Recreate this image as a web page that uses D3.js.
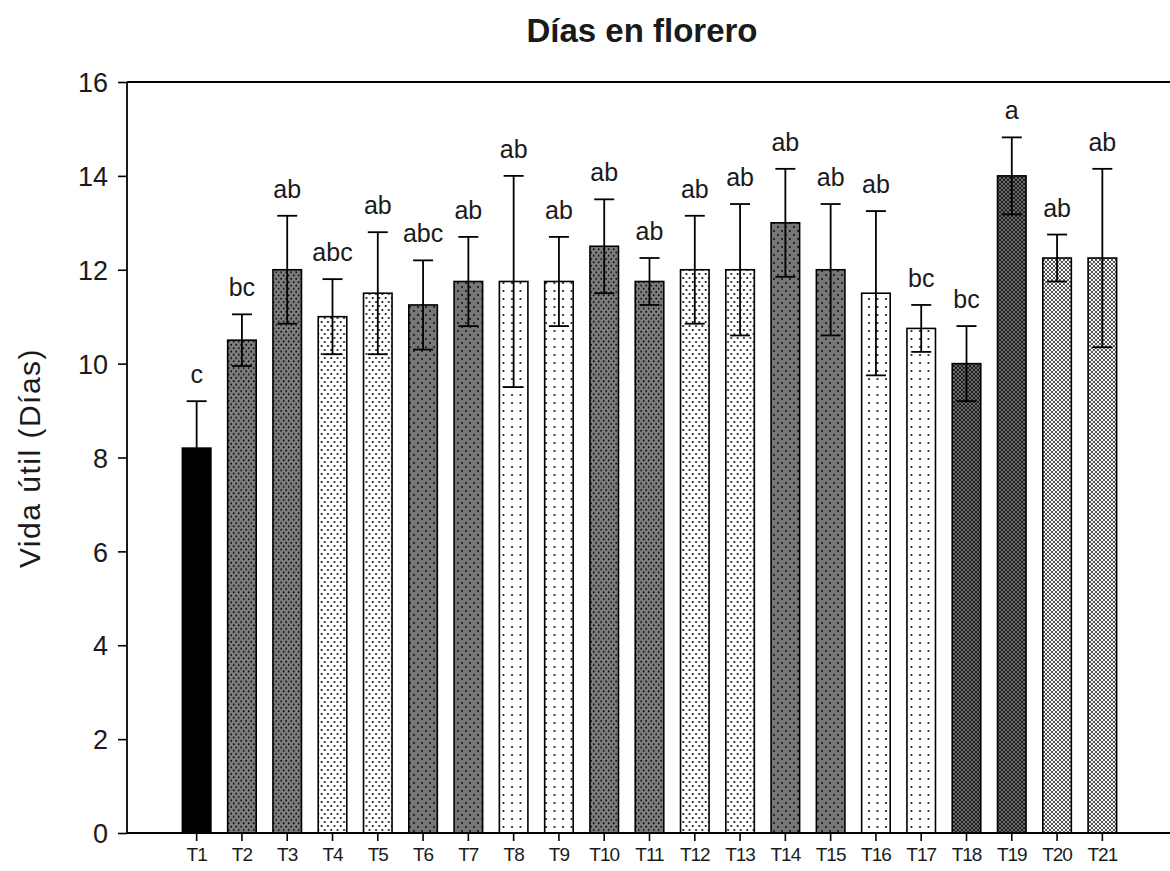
<!DOCTYPE html>
<html>
<head>
<meta charset="utf-8">
<script src="https://cdn.jsdelivr.net/npm/d3@7"></script>
<style>
  html, body { margin: 0; padding: 0; background: #fff; }
  svg { display: block; }
  text { font-family: "Liberation Sans", Arial, sans-serif; fill: #1a1a1a; }
</style>
</head>
<body>
<svg id="chart" width="1170" height="871"></svg>
<script>
// Treatments, mean vase life (days), standard error and significance letters
const treatments = ["T1","T2","T3","T4","T5","T6","T7","T8","T9","T10","T11",
                    "T12","T13","T14","T15","T16","T17","T18","T19","T20","T21"];
const meanDays   = [8.2, 10.5, 12.0, 11.0, 11.5, 11.25, 11.75, 11.75, 11.75, 12.5, 11.75,
                    12.0, 12.0, 13.0, 12.0, 11.5, 10.75, 10.0, 14.0, 12.25, 12.25];
const errDays    = [1.0, 0.55, 1.15, 0.8, 1.3, 0.95, 0.95, 2.25, 0.95, 1.0, 0.5,
                    1.15, 1.4, 1.15, 1.4, 1.75, 0.5, 0.8, 0.82, 0.5, 1.9];
const letters    = ["c","bc","ab","abc","ab","abc","ab","ab","ab","ab","ab",
                    "ab","ab","ab","ab","ab","bc","bc","a","ab","ab"];
const yTicks     = [0, 2, 4, 6, 8, 10, 12, 14, 16];

// Fill style for each treatment (pattern ids defined below)
const fillKinds  = ["solid","darkDense","darkDense","lightDense","lightDense","darkSparse","darkSparse",
                    "lightSparse","lightSparse","darkDense","darkDense","lightDense","lightDense",
                    "darkSparse","darkSparse","lightSparse","lightSparse","crossDark","crossDark",
                    "crossLight","crossLight"];

const svg = d3.select("#chart");
const plot = { left: 127, right: 1170, top: 82, bottom: 833 };

// ---- fill patterns ----
const defs = svg.append("defs");
function dotPattern(id, w, h, bg, dots, r) {
  const p = defs.append("pattern").attr("id", id).attr("patternUnits", "userSpaceOnUse")
    .attr("width", w).attr("height", h);
  p.append("rect").attr("width", w).attr("height", h).attr("fill", bg);
  dots.forEach(([cx, cy]) => p.append("circle").attr("cx", cx).attr("cy", cy).attr("r", r).attr("fill", "#000"));
}
dotPattern("darkDense", 5, 6.6, "#7d7d7d", [[1.2, 1.6], [3.7, 4.9]], 0.9);
dotPattern("lightDense", 6.4, 8, "#ffffff", [[1.6, 2], [4.8, 6]], 1.0);
dotPattern("darkSparse", 8, 8, "#777777", [[2, 3], [6, 7]], 0.9);
dotPattern("lightSparse", 8.5, 8, "#ffffff", [[2, 3]], 1.0);

function crossPattern(id, bg, ink) {
  const p = defs.append("pattern").attr("id", id).attr("patternUnits", "userSpaceOnUse")
    .attr("width", 4).attr("height", 4);
  p.append("rect").attr("width", 4).attr("height", 4).attr("fill", bg);
  p.append("path").attr("d", "M0,0L4,4M4,0L0,4").attr("stroke", ink).attr("stroke-width", 1);
}
crossPattern("crossDark", "#6a6a6a", "#1e1e1e");
crossPattern("crossLight", "#f4f4f4", "#555555");

// ---- scales ----
const x = d3.scaleBand().domain(treatments).range([174, 1125])
  .paddingInner(0.37).paddingOuter(0.185);
const y = d3.scaleLinear().domain([0, 16]).range([plot.bottom, plot.top]);

// ---- title ----
svg.append("text").attr("x", 642).attr("y", 42).attr("text-anchor", "middle")
  .attr("font-size", 33).attr("font-weight", "bold").text("Días en florero");

// ---- y axis label ----
svg.append("text").attr("transform", "translate(40,458) rotate(-90)")
  .attr("text-anchor", "middle").attr("font-size", 30).attr("letter-spacing", 1.5)
  .text("Vida útil (Días)");

// ---- bars ----
const rows = treatments.map((t, i) => ({ t, m: meanDays[i], e: errDays[i], l: letters[i], f: fillKinds[i] }));

svg.append("g").selectAll("rect").data(rows).join("rect")
  .attr("x", d => x(d.t)).attr("width", x.bandwidth())
  .attr("y", d => y(d.m)).attr("height", d => y(0) - y(d.m))
  .attr("fill", d => d.f === "solid" ? "#000" : `url(#${d.f})`)
  .attr("stroke", "#000").attr("stroke-width", 1.6);

// ---- error bars ----
const eb = svg.append("g").attr("stroke", "#000").attr("stroke-width", 1.8);
const cap = 10;
rows.forEach(d => {
  const cx = x(d.t) + x.bandwidth() / 2;
  eb.append("line").attr("x1", cx).attr("x2", cx).attr("y1", y(d.m - d.e)).attr("y2", y(d.m + d.e));
  eb.append("line").attr("x1", cx - cap).attr("x2", cx + cap).attr("y1", y(d.m + d.e)).attr("y2", y(d.m + d.e));
  eb.append("line").attr("x1", cx - cap).attr("x2", cx + cap).attr("y1", y(d.m - d.e)).attr("y2", y(d.m - d.e));
});

// ---- significance letters ----
svg.append("g").selectAll("text").data(rows).join("text")
  .attr("x", d => x(d.t) + x.bandwidth() / 2)
  .attr("y", d => y(d.m + d.e) - 18)
  .attr("text-anchor", "middle").attr("font-size", 25)
  .text(d => d.l);

// ---- axes ----
const yAxis = svg.append("g").attr("transform", `translate(${plot.left},0)`)
  .call(d3.axisLeft(y).tickValues(yTicks).tickFormat(d3.format("d")).tickSize(9).tickPadding(10));
yAxis.select(".domain").remove();
yAxis.selectAll(".tick line").attr("stroke", "#000").attr("stroke-width", 1.6);
yAxis.selectAll(".tick text").attr("font-size", 27).attr("font-family", "Liberation Sans, Arial, sans-serif")
  .attr("fill", "#1a1a1a").attr("dy", "0.36em");

const xAxis = svg.append("g").attr("transform", `translate(0,${plot.bottom})`)
  .call(d3.axisBottom(x).tickSize(8).tickPadding(7));
xAxis.select(".domain").remove();
xAxis.selectAll(".tick line").attr("stroke", "#000").attr("stroke-width", 1.6);
xAxis.selectAll(".tick text").attr("font-size", 19).attr("font-family", "Liberation Sans, Arial, sans-serif")
  .attr("fill", "#1a1a1a").attr("letter-spacing", -1);

// frame: left, top and bottom lines
const frame = svg.append("g").attr("stroke", "#000").attr("stroke-width", 1.8).attr("fill", "none");
frame.append("line").attr("x1", plot.left).attr("x2", plot.left).attr("y1", plot.top).attr("y2", plot.bottom);
frame.append("line").attr("x1", plot.left).attr("x2", plot.right).attr("y1", plot.top).attr("y2", plot.top);
frame.append("line").attr("x1", plot.left).attr("x2", plot.right).attr("y1", plot.bottom).attr("y2", plot.bottom);
</script>
</body>
</html>
